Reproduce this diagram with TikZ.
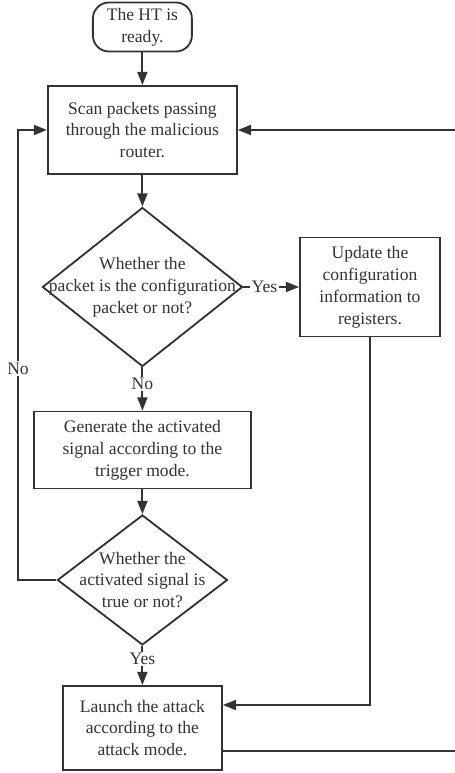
\documentclass[tikz,border=0pt]{standalone}
\usepackage{fontspec}
\setmainfont{Liberation Serif}
\usetikzlibrary{positioning, shapes.geometric, arrows.meta}
\definecolor{LineGray}{HTML}{333333}
\definecolor{White}{HTML}{FFFFFF}

\begin{document}
\begin{tikzpicture}[
  font=\fontsize{12.5}{15.6}\selectfont,
  process/.style={draw=LineGray,line width=1.3pt,fill=White,text=LineGray,align=center,inner sep=2pt},
  terminal/.style={process,rounded corners=0.4cm},
  decision/.style={diamond,draw=LineGray,line width=1.3pt,fill=White,inner sep=0pt},
  inside/.style={text=LineGray,align=center},
  flow/.style={draw=LineGray,line width=1.3pt,-{Triangle[length=0.33cm,width=0.25cm]}},
  branch/.style={fill=White,text=LineGray,inner sep=1pt}
]
\useasboundingbox (0,0) rectangle (11.35,-19.325);
\node[terminal,minimum width=2.475cm,minimum height=1.225cm] (ready) at (3.56,-0.675) {The HT is\\ready.};
\node[process,minimum width=4.725cm,minimum height=2.2cm] (scan) at (3.56,-3.25) {Scan packets passing\\through the malicious\\router.};
\node[decision,minimum width=5cm,minimum height=3.975cm,label={[inside]center:{Whether the\\packet is the configuration\\packet or not?}}] (cfg) at (3.56,-7.175) {};
\node[process,minimum width=3.5cm,minimum height=2.475cm] (update) at (9.25,-7.175) {Update the\\configuration\\information to\\registers.};
\node[process,minimum width=5.425cm,minimum height=1.925cm] (gen) at (3.56,-11.25) {Generate the activated\\signal according to the\\trigger mode.};
\node[decision,minimum width=4.25cm,minimum height=3.25cm,label={[inside]center:{Whether the\\activated signal is\\true or not?}}] (valid) at (3.56,-14.5) {};
\node[process,minimum width=3.975cm,minimum height=2.1cm] (launch) at (3.56,-18.2) {Launch the attack\\according to the\\attack mode.};
\coordinate (loopL) at (0.45,-3.25);
\coordinate (loopR) at (11.45,-3.25);
\draw[flow] (ready) -- (scan);
\draw[flow] (scan) -- (cfg);
\draw[flow] (cfg) -- node[branch,pos=0.38]{Yes} (update);
\draw[flow] (cfg) -- node[branch,pos=0.38]{No} (gen);
\draw[flow] (gen) -- (valid);
\draw[flow] (valid) -- node[branch,pos=0.34]{Yes} (launch);
\draw[flow] (valid.west) -| node[branch,pos=0.735]{No} (loopL) -- (scan.west);
\draw[flow] (update.south) |- ([yshift=0.575cm]launch.east);
\draw[flow] ([yshift=-0.575cm]launch.east) -| (loopR) -- (scan.east);
\end{tikzpicture}
\end{document}
